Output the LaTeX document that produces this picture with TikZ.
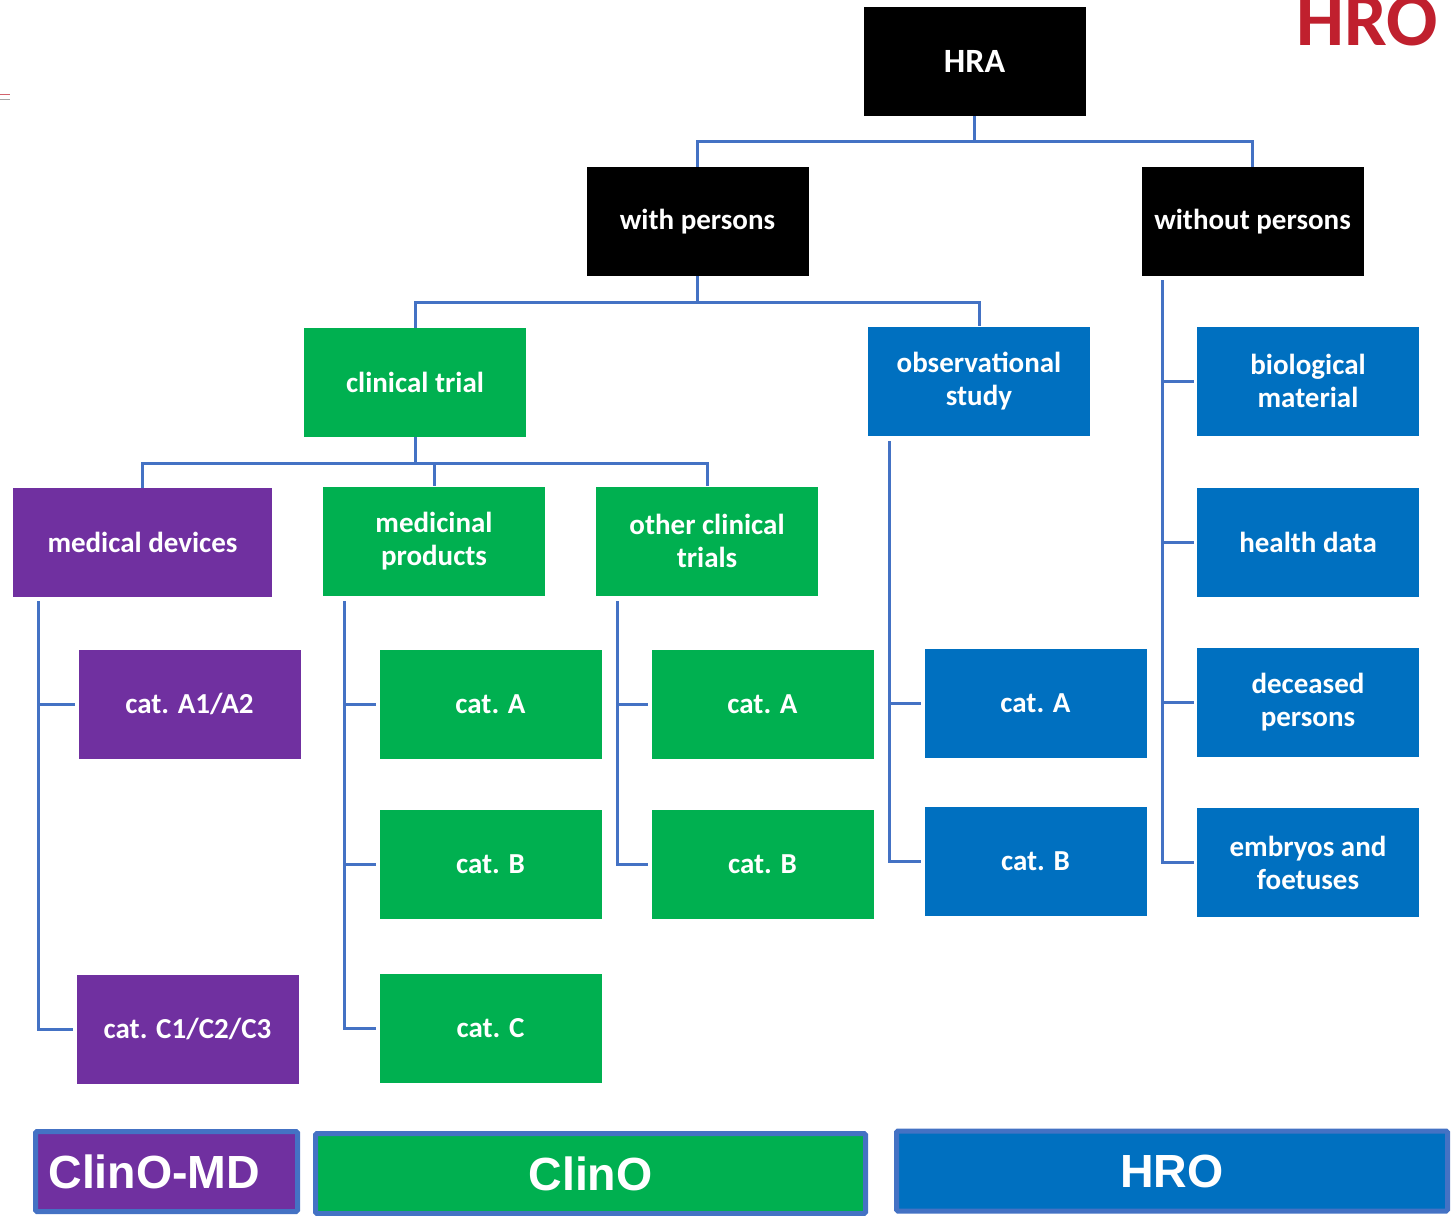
\documentclass[tikz,border=0pt]{standalone}
\usepackage{fontspec}
\setmainfont{Carlito}
\newfontfamily\legendfont{Liberation Sans}
\definecolor{boxpurple}{RGB}{112,48,160}
\definecolor{boxgreen}{RGB}{0,176,80}
\definecolor{boxblue}{RGB}{0,112,192}
\definecolor{linkblue}{RGB}{68,114,196}
\definecolor{hrored}{RGB}{192,32,46}
\tikzset{
  box/.style={rectangle, inner sep=0pt, minimum width=222, minimum height=109,
    text=white, align=center, font=\bfseries\fontsize{29}{33}\selectfont},
  blackbox/.style={box, fill=black},
  greenbox/.style={box, fill=boxgreen},
  bluebox/.style={box, fill=boxblue},
  purplebox/.style={box, fill=boxpurple},
  link/.style={draw=linkblue, line width=3},
  branch/.style={link, shorten >=3},
  legendbox/.style={draw=linkblue, line width=5, rounded corners=1.5,
    inner sep=0pt, minimum height=80, text=white,
    font=\legendfont\bfseries\fontsize{46.5}{50}\selectfont},
}
\begin{document}
\begin{tikzpicture}[x=1pt, y=-1pt]
\useasboundingbox (0,0) rectangle (1452,1216);

% small marks at the left edge
\draw[hrored!70, line width=1] (0,94.5) -- (10,94.5);
\draw[black!35, line width=1] (0,99.5) -- (10,99.5);

% title
\node[anchor=base east, inner sep=0pt, text=hrored,
  font=\bfseries\fontsize{76}{76}\selectfont] (title) at (1438,45) {HRO};

% top levels
\node[blackbox, font=\bfseries\fontsize{34}{38}\selectfont] (hra) at (974.5,61.5) {HRA};
\node[blackbox] (wp)  at (697.5,221.5) {with persons};
\node[blackbox] (wop) at (1252.5,221.5) {without persons};

\node[greenbox] (ct)  at (415,382.5) {clinical trial};
\node[bluebox]  (obs) at (979,381) {observational\\study};
\node[bluebox]  (bio) at (1308,381) {biological\\material};

\node[purplebox, minimum width=259] (md) at (142.5,542.5) {medical devices};
\node[greenbox] (mp)  at (434,541) {medicinal\\products};
\node[greenbox] (oct) at (707,541) {other clinical\\trials};
\node[bluebox]  (hd)  at (1308,542.5) {health data};

\node[purplebox] (mdA) at (189.5,704) {cat. A1/A2};
\node[greenbox]  (mpA) at (490.5,704) {cat. A};
\node[greenbox]  (otA) at (762.5,704) {cat. A};
\node[bluebox]   (obA) at (1035.5,703) {cat. A};
\node[bluebox]   (dec) at (1308,702.5) {deceased\\persons};

\node[greenbox]  (mpB) at (490.5,864) {cat. B};
\node[greenbox]  (otB) at (762.5,864) {cat. B};
\node[bluebox]   (obB) at (1035.5,861) {cat. B};
\node[bluebox]   (emb) at (1308,862.5) {embryos and\\foetuses};

\node[purplebox] (mdC) at (187.5,1029) {cat. C1/C2/C3};
\node[greenbox]  (mpC) at (490.5,1028) {cat. C};

% tree junctions
\coordinate (j0) at (974.5,141);
\coordinate (j1) at (697.5,302);
\coordinate (j2) at (415,463);
% trunk tops
\coordinate (tWop) at (1162,280);
\coordinate (tObs) at (889,441);
\coordinate (tMd)  at (38,601);
\coordinate (tMp)  at (344,601);
\coordinate (tOt)  at (617,601);

% connectors
\draw[link] (hra.south) -- (j0);
\draw[link] (wp.north) |- (j0) -| (wop.north);
\draw[link] (wp.south) -- (j1);
\draw[link] (ct.north) |- (j1) -| (obs.north);
\draw[link] (ct.south) -- (j2);
\draw[link] (md.north) |- (j2) -| (oct.north);
\draw[link] (j2) -| (mp.north);

\draw[branch] (tWop) |- (bio.west);
\draw[branch] (tWop) |- (hd.west);
\draw[branch] (tWop) |- (dec.west);
\draw[branch] (tWop) |- (emb.west);

\draw[branch] (tObs) |- (obA.west);
\draw[branch] (tObs) |- (obB.west);

\draw[branch] (tMd) |- (mdA.west);
\draw[branch] (tMd) |- (mdC.west);

\draw[branch] (tMp) |- (mpA.west);
\draw[branch] (tMp) |- (mpB.west);
\draw[branch] (tMp) |- (mpC.west);

\draw[branch] (tOt) |- (otA.west);
\draw[branch] (tOt) |- (otB.west);

% legend
\node[legendbox, fill=boxpurple, minimum width=262, text width=262-26, align=left]
  (lmd) at (166.5,1171.5) {ClinO-MD};
\node[legendbox, fill=boxgreen, minimum width=550] (lcl) at (590.5,1173.5) {ClinO};
\node[legendbox, fill=boxblue, minimum width=551] (lhro) at (1172,1171) {HRO};
\end{tikzpicture}
\end{document}
